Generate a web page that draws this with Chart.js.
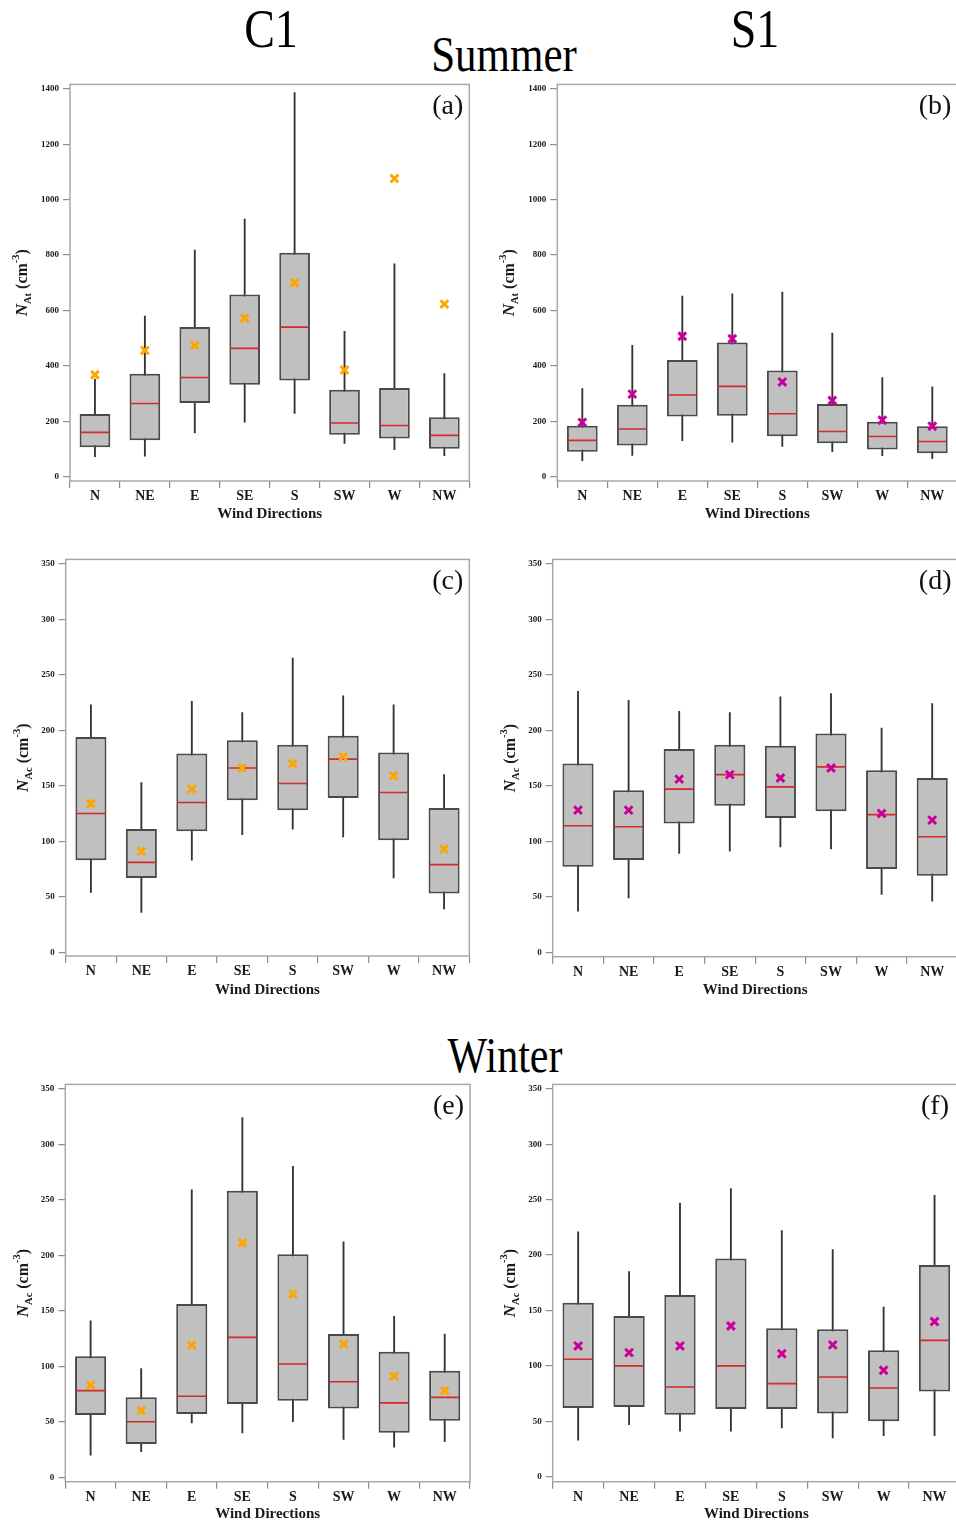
<!DOCTYPE html>
<html>
<head>
<meta charset="utf-8">
<script src="https://cdn.jsdelivr.net/npm/chart.js@4.4.1/dist/chart.umd.min.js"></script>
<style>
  html, body { margin: 0; padding: 0; background: #fff; width: 956px; height: 1524px; overflow: hidden; position: relative; }
  .panel { position: absolute; }
  .ttl { position: absolute; line-height: 1; white-space: nowrap; color: #000; font-family: 'Liberation Serif', 'DejaVu Serif', serif; transform: translateX(-50%) scaleY(1.2); }
</style>
</head>
<body>
<div class="ttl" style="left:271px; top:6px; font-size:46px;">C1</div>
<div class="ttl" style="left:755px; top:6px; font-size:46px;">S1</div>
<div class="ttl" style="left:504px; top:32px; font-size:43px;">Summer</div>
<div class="ttl" style="left:505px; top:1034px; font-size:42px;">Winter</div>

<div class="panel" style="left:0; top:75px; width:480px; height:460px;"><canvas id="pa"></canvas></div>
<div class="panel" style="left:480px; top:75px; width:480px; height:460px;"><canvas id="pb"></canvas></div>
<div class="panel" style="left:0; top:550px; width:480px; height:460px;"><canvas id="pc"></canvas></div>
<div class="panel" style="left:480px; top:550px; width:480px; height:460px;"><canvas id="pd"></canvas></div>
<div class="panel" style="left:0; top:1075px; width:480px; height:449px;"><canvas id="pe"></canvas></div>
<div class="panel" style="left:480px; top:1075px; width:480px; height:449px;"><canvas id="pf"></canvas></div>

<script>
// ----- DATA -----
const directions = ['N', 'NE', 'E', 'SE', 'S', 'SW', 'W', 'NW'];
const ticksAt = [0, 200, 400, 600, 800, 1000, 1200, 1400];
const ticksAc = [0, 50, 100, 150, 200, 250, 300, 350];

// (a) C1 summer, N_At
const aLow  = [72, 74, 158, 197, 228, 120, 98, 76];
const aQ1   = [106, 132, 266, 332, 347, 151, 138, 101];
const aMed  = [160, 264, 358, 463, 540, 194, 185, 149];
const aQ3   = [226, 372, 540, 658, 808, 314, 320, 215];
const aHigh = [352, 580, 818, 930, 1386, 525, 768, 372];
const aMean = [368, 456, 474, 572, 700, 385, 1076, 623];

// (b) S1 summer, N_At
const bLow  = [58, 77, 130, 125, 109, 90, 76, 65];
const bQ1   = [90, 113, 217, 220, 146, 121, 98, 85];
const bMed  = [131, 172, 295, 326, 227, 163, 145, 127];
const bQ3   = [184, 260, 421, 484, 383, 262, 198, 182];
const bHigh = [318, 474, 652, 660, 666, 518, 358, 324];
const bMean = [196, 298, 507, 498, 342, 275, 204, 182];

// (c) C1 summer, N_Ac
const cLow  = [54, 36, 83, 106, 111, 104, 67, 39];
const cQ1   = [83, 67, 109, 137, 128, 139, 101, 53];
const cMed  = [125, 81, 135, 166, 152, 174, 144, 79];
const cQ3   = [194, 111, 179, 191, 187, 195, 180, 130];
const cHigh = [223, 153, 226, 216, 265, 231, 223, 160];
const cMean = [134, 91, 147, 166, 170, 176, 159, 93];

// (d) S1 summer, N_Ac
const dLow  = [37, 49, 89, 91, 95, 93, 52, 46];
const dQ1   = [77, 83, 116, 132, 121, 127, 75, 69];
const dMed  = [114, 113, 147, 160, 149, 167, 124, 104];
const dQ3   = [170, 146, 183, 187, 186, 197, 164, 157];
const dHigh = [235, 227, 217, 216, 230, 233, 202, 224];
const dMean = [128, 128, 156, 160, 157, 166, 125, 119];

// (e) C1 winter, N_Ac
const eLow  = [20, 23, 49, 40, 50, 34, 27, 32];
const eQ1   = [56, 30, 57, 66, 69, 62, 40, 51];
const eMed  = [78, 50, 73, 126, 102, 86, 67, 72];
const eQ3   = [109, 72, 156, 258, 201, 129, 113, 96];
const eHigh = [141, 98, 259, 324, 280, 212, 145, 129];
const eMean = [83, 60, 119, 211, 165, 120, 91, 78];

// (f) S1 winter, N_Ac
const fLow  = [33, 47, 41, 41, 44, 35, 37, 37];
const fQ1   = [62, 63, 56, 61, 61, 57, 50, 77];
const fMed  = [106, 100, 81, 100, 84, 90, 80, 123];
const fQ3   = [157, 145, 164, 197, 134, 133, 114, 191];
const fHigh = [221, 185, 247, 260, 222, 205, 153, 254];
const fMean = [118, 112, 118, 136, 111, 119, 96, 140];

const SERIF = "'Liberation Serif', 'DejaVu Serif', serif";
const ORANGE = '#ffa500';
const MAGENTA = '#cc0099';

// frame, y-axis label with sub/superscript, panel letter
const decor = {
  id: 'decor',
  afterDraw(chart, args, o) {
    const { ctx, chartArea: a } = chart;
    ctx.save();
    ctx.strokeStyle = '#a8a8a8';
    ctx.lineWidth = 1.5;
    ctx.strokeRect(a.left, a.top, a.right - a.left, a.bottom - a.top);

    // panel letter
    ctx.fillStyle = '#111';
    ctx.font = '28px ' + SERIF;
    ctx.textAlign = 'right';
    ctx.textBaseline = 'alphabetic';
    ctx.fillText(o.letter, a.right - o.letterOff, a.top + 29.5);

    // y label: N_sub (cm^-3)
    const parts = [
      { t: 'N', f: 'italic bold 17px ' + SERIF, dy: 0 },
      { t: o.sub, f: 'bold 10.5px ' + SERIF, dy: 4 },
      { t: ' (cm', f: 'bold 16px ' + SERIF, dy: 0 },
      { t: '-3', f: 'bold 10.5px ' + SERIF, dy: -8.5 },
      { t: ')', f: 'bold 16px ' + SERIF, dy: 0 }
    ];
    let total = 0;
    parts.forEach(p => { ctx.font = p.f; p.w = ctx.measureText(p.t).width; total += p.w; });
    ctx.translate(o.labelX, (a.top + a.bottom) / 2);
    ctx.rotate(-Math.PI / 2);
    ctx.textAlign = 'left';
    ctx.fillStyle = '#1a1a1a';
    let x = -total / 2;
    parts.forEach(p => { ctx.font = p.f; ctx.fillText(p.t, x, p.dy); x += p.w; });
    ctx.restore();
  }
};

function boxPanel(id, low, q1, med, q3, high, mean, o) {
  new Chart(document.getElementById(id), {
    type: 'bar',
    data: {
      labels: directions,
      datasets: [
        { // whiskers
          data: directions.map((_, i) => [low[i], high[i]]),
          backgroundColor: '#333', borderWidth: 0,
          barThickness: 1.2, grouped: false, order: 4
        },
        { // boxes
          data: directions.map((_, i) => [q1[i], q3[i]]),
          backgroundColor: '#c0c0c0', borderColor: '#4a4a4a', borderWidth: 2,
          borderSkipped: false, barPercentage: 0.615, categoryPercentage: 1,
          grouped: false, order: 3
        },
        { // medians
          type: 'line', data: med, showLine: false,
          pointStyle: 'line', pointRadius: 14.3, pointHoverRadius: 14.3,
          pointBorderColor: '#d42a2a', pointBorderWidth: 1.6, order: 2
        },
        { // means
          type: 'line', data: mean, showLine: false,
          pointStyle: 'crossRot', pointRadius: 5.5, pointHoverRadius: 5.5,
          pointBorderColor: o.markColor, pointBorderWidth: 3, order: 1
        }
      ]
    },
    options: {
      responsive: true,
      maintainAspectRatio: false,
      animation: false,
      events: [],
      layout: { autoPadding: false, padding: { left: 0, top: o.top, right: o.rightPad, bottom: 0 } },
      plugins: {
        legend: { display: false },
        tooltip: { enabled: false },
        decor: { letter: o.letter, sub: o.sub, labelX: o.labelX, letterOff: o.letterOff || 6 }
      },
      scales: {
        x: {
          offset: true,
          grid: { offset: true, drawOnChartArea: false, drawTicks: true, tickLength: 7, color: '#8c8c8c', lineWidth: 1.2 },
          border: { display: false },
          ticks: { color: '#1a1a1a', font: { family: SERIF, weight: 'bold', size: 14 }, padding: 0, maxRotation: 0, autoSkip: false },
          title: {
            display: true, text: 'Wind Directions', color: '#1a1a1a',
            font: { family: SERIF, weight: 'bold', size: 15 },
            padding: { top: 0, bottom: o.titlePad }
          },
          afterFit: s => { s.height = o.xh; }
        },
        y: {
          min: o.ymin, max: o.ymax,
          afterBuildTicks: s => { s.ticks = o.ticks.map(v => ({ value: v })); },
          grid: { drawOnChartArea: false, tickLength: 7, color: '#8c8c8c', lineWidth: 1.2 },
          border: { display: false },
          ticks: {
            color: '#1a1a1a', font: { family: SERIF, weight: 'bold', size: 9 }, padding: 4,
            callback: v => String(v)
          },
          afterFit: s => { s.width = o.left; }
        }
      }
    },
    plugins: [decor]
  });
}

boxPanel('pa', aLow, aQ1, aMed, aQ3, aHigh, aMean, {
  letter: '(a)', sub: 'At', markColor: ORANGE, ticks: ticksAt, ymin: -15.5, ymax: 1415.8,
  left: 70, top: 8.3, rightPad: 10.7, xh: 54, titlePad: 12, labelX: 27
});
boxPanel('pb', bLow, bQ1, bMed, bQ3, bHigh, bMean, {
  letter: '(b)', sub: 'At', markColor: MAGENTA, ticks: ticksAt, ymin: -15.5, ymax: 1415.8,
  left: 77.3, top: 8.3, rightPad: 2.7, xh: 54, titlePad: 12, labelX: 34
});
boxPanel('pc', cLow, cQ1, cMed, cQ3, cHigh, cMean, {
  letter: '(c)', sub: 'Ac', markColor: ORANGE, ticks: ticksAc, ymin: -3.3, ymax: 353.9,
  left: 65.7, top: 9, rightPad: 10.7, xh: 54, titlePad: 11, labelX: 28
});
boxPanel('pd', dLow, dQ1, dMed, dQ3, dHigh, dMean, {
  letter: '(d)', sub: 'Ac', markColor: MAGENTA, ticks: ticksAc, ymin: -4, ymax: 353.9,
  left: 72.7, top: 9, rightPad: 2.5, xh: 53.3, titlePad: 11, labelX: 35
});
boxPanel('pe', eLow, eQ1, eMed, eQ3, eHigh, eMean, {
  letter: '(e)', sub: 'Ac', markColor: ORANGE, ticks: ticksAc, ymin: -4, ymax: 353.9,
  left: 65.3, top: 9, rightPad: 10, xh: 42.3, titlePad: 1, labelX: 28
});
boxPanel('pf', fLow, fQ1, fMed, fQ3, fHigh, fMean, {
  letter: '(f)', sub: 'Ac', markColor: MAGENTA, ticks: ticksAc, ymin: -4.5, ymax: 354,
  left: 72.7, top: 8.3, rightPad: 0, xh: 42.3, titlePad: 1, labelX: 35, letterOff: 11
});
</script>
</body>
</html>
